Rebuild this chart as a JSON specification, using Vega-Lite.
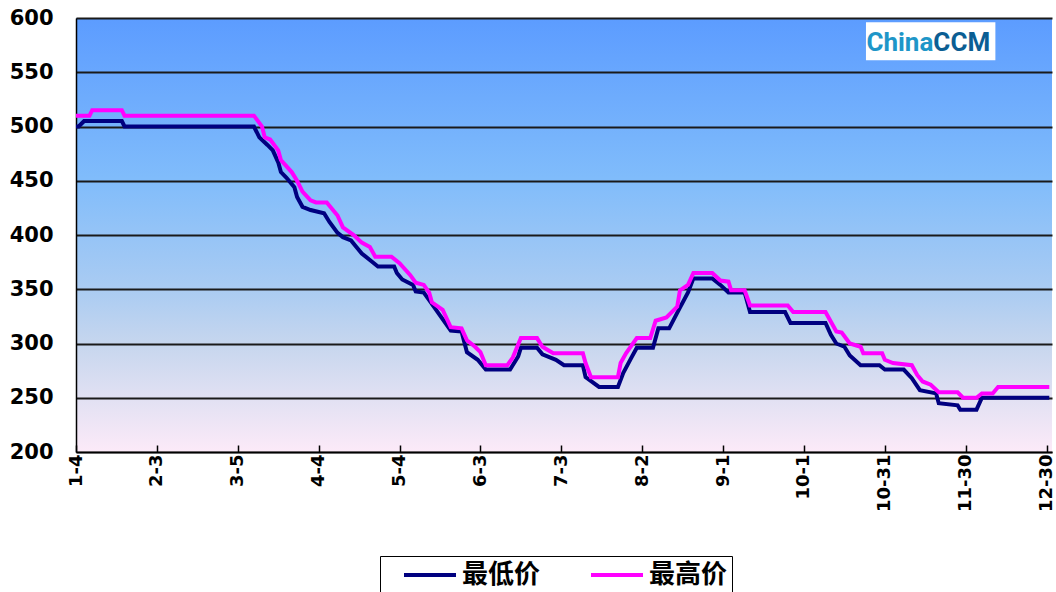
{
  "$schema": "https://vega.github.io/schema/vega-lite/v6.json",
  "autosize": {"type": "none"},
  "width": 976,
  "height": 434,
  "padding": {"left": 76, "top": 18, "right": 4, "bottom": 140},
  "background": "white",
  "config": {
    "view": {
      "stroke": null,
      "fill": {
        "gradient": "linear", "x1": 0, "y1": 0, "x2": 0, "y2": 1,
        "stops": [
          {"offset": 0, "color": "#5C9CFF"},
          {"offset": 0.37, "color": "#80BCFB"},
          {"offset": 0.63, "color": "#ABCCF2"},
          {"offset": 0.75, "color": "#C6D6EE"},
          {"offset": 0.88, "color": "#E2E1F3"},
          {"offset": 1, "color": "#FCEAF8"}
        ]
      }
    },
    "axis": {
      "labelFont": "DejaVu Sans",
      "labelFontWeight": "bold",
      "labelColor": "black",
      "domainColor": "black",
      "domainWidth": 1.5,
      "tickColor": "black",
      "title": null
    }
  },
  "datasets": {
    "prices": [
      {"date": "2013-01-04", "series": "最低价", "price": 500},
      {"date": "2013-01-05", "series": "最低价", "price": 500},
      {"date": "2013-01-07", "series": "最低价", "price": 505},
      {"date": "2013-01-21", "series": "最低价", "price": 505},
      {"date": "2013-01-22", "series": "最低价", "price": 500},
      {"date": "2013-03-11", "series": "最低价", "price": 500},
      {"date": "2013-03-13", "series": "最低价", "price": 490},
      {"date": "2013-03-16", "series": "最低价", "price": 483},
      {"date": "2013-03-18", "series": "最低价", "price": 478},
      {"date": "2013-03-20", "series": "最低价", "price": 467},
      {"date": "2013-03-21", "series": "最低价", "price": 458},
      {"date": "2013-03-23", "series": "最低价", "price": 453},
      {"date": "2013-03-26", "series": "最低价", "price": 444},
      {"date": "2013-03-27", "series": "最低价", "price": 435},
      {"date": "2013-03-29", "series": "最低价", "price": 426},
      {"date": "2013-04-01", "series": "最低价", "price": 423},
      {"date": "2013-04-06", "series": "最低价", "price": 420},
      {"date": "2013-04-08", "series": "最低价", "price": 412},
      {"date": "2013-04-11", "series": "最低价", "price": 402},
      {"date": "2013-04-13", "series": "最低价", "price": 398},
      {"date": "2013-04-16", "series": "最低价", "price": 395},
      {"date": "2013-04-18", "series": "最低价", "price": 389},
      {"date": "2013-04-20", "series": "最低价", "price": 383},
      {"date": "2013-04-23", "series": "最低价", "price": 377},
      {"date": "2013-04-26", "series": "最低价", "price": 371},
      {"date": "2013-05-02", "series": "最低价", "price": 371},
      {"date": "2013-05-03", "series": "最低价", "price": 365},
      {"date": "2013-05-05", "series": "最低价", "price": 359},
      {"date": "2013-05-09", "series": "最低价", "price": 354},
      {"date": "2013-05-10", "series": "最低价", "price": 348},
      {"date": "2013-05-13", "series": "最低价", "price": 347},
      {"date": "2013-05-15", "series": "最低价", "price": 340},
      {"date": "2013-05-19", "series": "最低价", "price": 326},
      {"date": "2013-05-23", "series": "最低价", "price": 312},
      {"date": "2013-05-27", "series": "最低价", "price": 311},
      {"date": "2013-05-29", "series": "最低价", "price": 292},
      {"date": "2013-06-02", "series": "最低价", "price": 285},
      {"date": "2013-06-05", "series": "最低价", "price": 276},
      {"date": "2013-06-14", "series": "最低价", "price": 276},
      {"date": "2013-06-17", "series": "最低价", "price": 288},
      {"date": "2013-06-18", "series": "最低价", "price": 296},
      {"date": "2013-06-24", "series": "最低价", "price": 296},
      {"date": "2013-06-26", "series": "最低价", "price": 290},
      {"date": "2013-07-01", "series": "最低价", "price": 285},
      {"date": "2013-07-04", "series": "最低价", "price": 280},
      {"date": "2013-07-11", "series": "最低价", "price": 280},
      {"date": "2013-07-12", "series": "最低价", "price": 269},
      {"date": "2013-07-17", "series": "最低价", "price": 260},
      {"date": "2013-07-24", "series": "最低价", "price": 260},
      {"date": "2013-07-26", "series": "最低价", "price": 273},
      {"date": "2013-07-29", "series": "最低价", "price": 287},
      {"date": "2013-07-31", "series": "最低价", "price": 296},
      {"date": "2013-08-06", "series": "最低价", "price": 296},
      {"date": "2013-08-08", "series": "最低价", "price": 314},
      {"date": "2013-08-12", "series": "最低价", "price": 314},
      {"date": "2013-08-16", "series": "最低价", "price": 333},
      {"date": "2013-08-19", "series": "最低价", "price": 347},
      {"date": "2013-08-21", "series": "最低价", "price": 360},
      {"date": "2013-08-28", "series": "最低价", "price": 360},
      {"date": "2013-08-31", "series": "最低价", "price": 354},
      {"date": "2013-09-03", "series": "最低价", "price": 347},
      {"date": "2013-09-09", "series": "最低价", "price": 347},
      {"date": "2013-09-11", "series": "最低价", "price": 329},
      {"date": "2013-09-24", "series": "最低价", "price": 329},
      {"date": "2013-09-26", "series": "最低价", "price": 319},
      {"date": "2013-10-09", "series": "最低价", "price": 319},
      {"date": "2013-10-11", "series": "最低价", "price": 308},
      {"date": "2013-10-13", "series": "最低价", "price": 300},
      {"date": "2013-10-16", "series": "最低价", "price": 297},
      {"date": "2013-10-18", "series": "最低价", "price": 289},
      {"date": "2013-10-22", "series": "最低价", "price": 280},
      {"date": "2013-10-29", "series": "最低价", "price": 280},
      {"date": "2013-10-31", "series": "最低价", "price": 276},
      {"date": "2013-11-07", "series": "最低价", "price": 276},
      {"date": "2013-11-10", "series": "最低价", "price": 268},
      {"date": "2013-11-13", "series": "最低价", "price": 257},
      {"date": "2013-11-19", "series": "最低价", "price": 254},
      {"date": "2013-11-20", "series": "最低价", "price": 245},
      {"date": "2013-11-27", "series": "最低价", "price": 243},
      {"date": "2013-11-28", "series": "最低价", "price": 239},
      {"date": "2013-12-04", "series": "最低价", "price": 239},
      {"date": "2013-12-06", "series": "最低价", "price": 250},
      {"date": "2013-12-31", "series": "最低价", "price": 250},
      {"date": "2013-01-04", "series": "最高价", "price": 510},
      {"date": "2013-01-09", "series": "最高价", "price": 510},
      {"date": "2013-01-10", "series": "最高价", "price": 515},
      {"date": "2013-01-21", "series": "最高价", "price": 515},
      {"date": "2013-01-22", "series": "最高价", "price": 510},
      {"date": "2013-03-11", "series": "最高价", "price": 510},
      {"date": "2013-03-14", "series": "最高价", "price": 500},
      {"date": "2013-03-15", "series": "最高价", "price": 490},
      {"date": "2013-03-17", "series": "最高价", "price": 488},
      {"date": "2013-03-20", "series": "最高价", "price": 478},
      {"date": "2013-03-21", "series": "最高价", "price": 469},
      {"date": "2013-03-25", "series": "最高价", "price": 458},
      {"date": "2013-03-27", "series": "最高价", "price": 450},
      {"date": "2013-03-29", "series": "最高价", "price": 440},
      {"date": "2013-04-01", "series": "最高价", "price": 432},
      {"date": "2013-04-03", "series": "最高价", "price": 430},
      {"date": "2013-04-07", "series": "最高价", "price": 430},
      {"date": "2013-04-11", "series": "最高价", "price": 418},
      {"date": "2013-04-13", "series": "最高价", "price": 407},
      {"date": "2013-04-17", "series": "最高价", "price": 400},
      {"date": "2013-04-20", "series": "最高价", "price": 393},
      {"date": "2013-04-23", "series": "最高价", "price": 389},
      {"date": "2013-04-25", "series": "最高价", "price": 380},
      {"date": "2013-05-01", "series": "最高价", "price": 380},
      {"date": "2013-05-04", "series": "最高价", "price": 374},
      {"date": "2013-05-08", "series": "最高价", "price": 363},
      {"date": "2013-05-10", "series": "最高价", "price": 356},
      {"date": "2013-05-13", "series": "最高价", "price": 354},
      {"date": "2013-05-15", "series": "最高价", "price": 347},
      {"date": "2013-05-16", "series": "最高价", "price": 338},
      {"date": "2013-05-20", "series": "最高价", "price": 331},
      {"date": "2013-05-23", "series": "最高价", "price": 315},
      {"date": "2013-05-27", "series": "最高价", "price": 314},
      {"date": "2013-05-29", "series": "最高价", "price": 303},
      {"date": "2013-06-01", "series": "最高价", "price": 297},
      {"date": "2013-06-03", "series": "最高价", "price": 292},
      {"date": "2013-06-05", "series": "最高价", "price": 280},
      {"date": "2013-06-13", "series": "最高价", "price": 280},
      {"date": "2013-06-15", "series": "最高价", "price": 287},
      {"date": "2013-06-18", "series": "最高价", "price": 305},
      {"date": "2013-06-24", "series": "最高价", "price": 305},
      {"date": "2013-06-26", "series": "最高价", "price": 297},
      {"date": "2013-06-30", "series": "最高价", "price": 291},
      {"date": "2013-07-11", "series": "最高价", "price": 291},
      {"date": "2013-07-12", "series": "最高价", "price": 282},
      {"date": "2013-07-14", "series": "最高价", "price": 269},
      {"date": "2013-07-24", "series": "最高价", "price": 269},
      {"date": "2013-07-25", "series": "最高价", "price": 282},
      {"date": "2013-07-27", "series": "最高价", "price": 291},
      {"date": "2013-07-31", "series": "最高价", "price": 305},
      {"date": "2013-08-05", "series": "最高价", "price": 305},
      {"date": "2013-08-07", "series": "最高价", "price": 321},
      {"date": "2013-08-11", "series": "最高价", "price": 324},
      {"date": "2013-08-15", "series": "最高价", "price": 334},
      {"date": "2013-08-16", "series": "最高价", "price": 349},
      {"date": "2013-08-19", "series": "最高价", "price": 354},
      {"date": "2013-08-21", "series": "最高价", "price": 365},
      {"date": "2013-08-28", "series": "最高价", "price": 365},
      {"date": "2013-08-31", "series": "最高价", "price": 358},
      {"date": "2013-09-03", "series": "最高价", "price": 357},
      {"date": "2013-09-04", "series": "最高价", "price": 349},
      {"date": "2013-09-09", "series": "最高价", "price": 349},
      {"date": "2013-09-11", "series": "最高价", "price": 335},
      {"date": "2013-09-25", "series": "最高价", "price": 335},
      {"date": "2013-09-27", "series": "最高价", "price": 329},
      {"date": "2013-10-09", "series": "最高价", "price": 329},
      {"date": "2013-10-11", "series": "最高价", "price": 320},
      {"date": "2013-10-13", "series": "最高价", "price": 311},
      {"date": "2013-10-15", "series": "最高价", "price": 310},
      {"date": "2013-10-18", "series": "最高价", "price": 300},
      {"date": "2013-10-22", "series": "最高价", "price": 297},
      {"date": "2013-10-23", "series": "最高价", "price": 291},
      {"date": "2013-10-30", "series": "最高价", "price": 291},
      {"date": "2013-10-31", "series": "最高价", "price": 285},
      {"date": "2013-11-03", "series": "最高价", "price": 282},
      {"date": "2013-11-10", "series": "最高价", "price": 280},
      {"date": "2013-11-12", "series": "最高价", "price": 271},
      {"date": "2013-11-14", "series": "最高价", "price": 265},
      {"date": "2013-11-17", "series": "最高价", "price": 262},
      {"date": "2013-11-20", "series": "最高价", "price": 255},
      {"date": "2013-11-27", "series": "最高价", "price": 255},
      {"date": "2013-11-29", "series": "最高价", "price": 250},
      {"date": "2013-12-04", "series": "最高价", "price": 250},
      {"date": "2013-12-06", "series": "最高价", "price": 254},
      {"date": "2013-12-10", "series": "最高价", "price": 254},
      {"date": "2013-12-12", "series": "最高价", "price": 260},
      {"date": "2013-12-31", "series": "最高价", "price": 260}
    ]
  },
  "layer": [
    {
      "data": {"name": "prices"},
      "mark": {"type": "line", "strokeWidth": 4, "strokeJoin": "miter"},
      "encoding": {
        "x": {
          "field": "date",
          "type": "temporal",
          "scale": {
            "type": "utc",
            "domain": [
              {"year": 2013, "month": 1, "date": 4, "utc": true},
              {"year": 2014, "month": 1, "date": 1, "utc": true}
            ]
          },
          "axis": {
            "values": [
              {"year": 2013, "month": 1, "date": 4, "utc": true},
              {"year": 2013, "month": 2, "date": 3, "utc": true},
              {"year": 2013, "month": 3, "date": 5, "utc": true},
              {"year": 2013, "month": 4, "date": 4, "utc": true},
              {"year": 2013, "month": 5, "date": 4, "utc": true},
              {"year": 2013, "month": 6, "date": 3, "utc": true},
              {"year": 2013, "month": 7, "date": 3, "utc": true},
              {"year": 2013, "month": 8, "date": 2, "utc": true},
              {"year": 2013, "month": 9, "date": 1, "utc": true},
              {"year": 2013, "month": 10, "date": 1, "utc": true},
              {"year": 2013, "month": 10, "date": 31, "utc": true},
              {"year": 2013, "month": 11, "date": 30, "utc": true},
              {"year": 2013, "month": 12, "date": 30, "utc": true}
            ],
            "format": "%-m-%-d",
            "labelAngle": -90,
            "labelFontSize": 18,
            "labelPadding": 9,
            "tickSize": -7,
            "tickWidth": 1.5,
            "grid": false,
            "labelOverlap": false
          }
        },
        "y": {
          "field": "price",
          "type": "quantitative",
          "scale": {"domain": [200, 600], "nice": false, "zero": false},
          "axis": {
            "values": [200, 250, 300, 350, 400, 450, 500, 550, 600],
            "ticks": false,
            "labelPadding": 23,
            "labelFontSize": 21,
            "grid": true,
            "gridColor": "#1a1a1a",
            "gridWidth": 1.8,
            "gridOpacity": 1
          }
        },
        "color": {
          "field": "series",
          "type": "nominal",
          "scale": {"domain": ["最低价", "最高价"], "range": ["#000080", "#FF00FF"]},
          "legend": {
            "title": null,
            "orient": "none",
            "legendX": 304,
            "legendY": 538,
            "direction": "horizontal",
            "strokeColor": "black",
            "fillColor": "white",
            "padding": 4,
            "symbolType": "M-2,0H2",
            "symbolSize": 676,
            "symbolStrokeWidth": 4,
            "symbolOffset": 31,
            "labelOffset": 17,
            "labelFont": "Noto Sans CJK SC",
            "labelFontSize": 26,
            "labelFontWeight": "bold",
            "labelColor": "black",
            "columnPadding": 30
          }
        }
      }
    },
    {
      "data": {"values": [{}]},
      "mark": {"type": "rect", "fill": "white"},
      "encoding": {
        "x": {"datum": {"year": 2013, "month": 10, "date": 24, "utc": true}, "type": "temporal"},
        "x2": {"datum": {"year": 2013, "month": 12, "date": 11, "utc": true}},
        "y": {"datum": 596, "type": "quantitative"},
        "y2": {"datum": 561}
      }
    },
    {
      "data": {"values": [{}]},
      "mark": {"type": "text", "text": "China", "align": "right", "baseline": "alphabetic", "font": "Roboto", "fontWeight": "bold", "fontSize": 26, "color": "#1E96C8"},
      "encoding": {
        "x": {"datum": {"year": 2013, "month": 11, "date": 18, "utc": true}, "type": "temporal"},
        "y": {"datum": 570, "type": "quantitative"}
      }
    },
    {
      "data": {"values": [{}]},
      "mark": {"type": "text", "text": "CCM", "align": "left", "baseline": "alphabetic", "font": "Roboto", "fontWeight": "bold", "fontSize": 26, "color": "#0B5E93"},
      "encoding": {
        "x": {"datum": {"year": 2013, "month": 11, "date": 18, "utc": true}, "type": "temporal"},
        "y": {"datum": 570, "type": "quantitative"}
      }
    }
  ]
}
